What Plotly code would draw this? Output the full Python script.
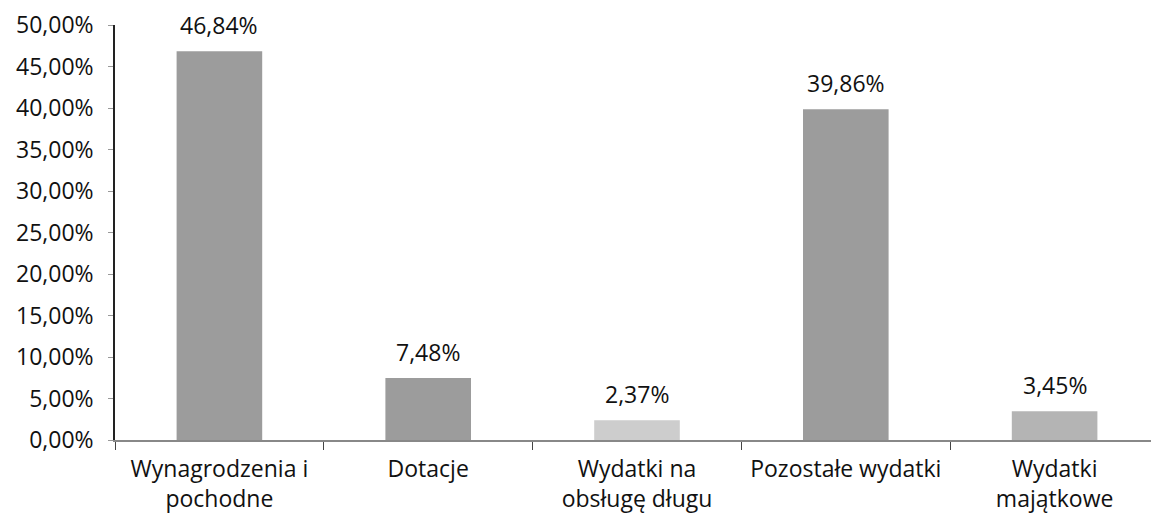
import plotly.graph_objects as go

categories = ["Wynagrodzenia i<br>pochodne", "Dotacje", "Wydatki na<br>obsługę długu",
              "Pozostałe wydatki", "Wydatki<br>majątkowe"]
values = [0.4684, 0.0748, 0.0237, 0.3986, 0.0345]
labels = ["46,84%", "7,48%", "2,37%", "39,86%", "3,45%"]
colors = ["#9c9c9c", "#9c9c9c", "#cdcdcd", "#9c9c9c", "#b4b4b4"]

FONT = "Open Sans"
FS = 23

fig = go.Figure()
fig.add_trace(go.Bar(
    x=categories, y=values,
    marker=dict(color=colors, line=dict(width=0)),
    width=0.41,
    hoverinfo="skip",
))

for c, v, t in zip(categories, values, labels):
    fig.add_annotation(x=c, y=v, text=t, showarrow=False,
                       yanchor="bottom", yshift=8,
                       font=dict(family=FONT, size=FS, color="#111111"))

# page body has an 8px default margin, so size/margins are compensated
fig.update_layout(
    width=1151, height=518,
    margin=dict(l=107, r=0, t=17, b=86),
    paper_bgcolor="white", plot_bgcolor="white",
    separators=", ",
    showlegend=False,
    font=dict(family=FONT, size=FS, color="#111111"),
)
fig.update_yaxes(
    range=[0, 0.5], dtick=0.05, tickformat=".2%",
    showgrid=False, zeroline=False, automargin=False,
    showline=True, linecolor="#222222", linewidth=1.5,
    ticks="outside", ticklen=5, tickcolor="#999999",
    ticklabelstandoff=10,
    tickfont=dict(family=FONT, size=FS, color="#111111"),
)
fig.update_xaxes(
    showgrid=False, showline=True, linecolor="#888888", linewidth=1.5,
    automargin=False,
    ticks="outside", tickson="boundaries", ticklen=8, tickcolor="#444444",
    ticklabelstandoff=8,
    tickfont=dict(family=FONT, size=FS, color="#111111"),
)

fig.write_html("out.html")
